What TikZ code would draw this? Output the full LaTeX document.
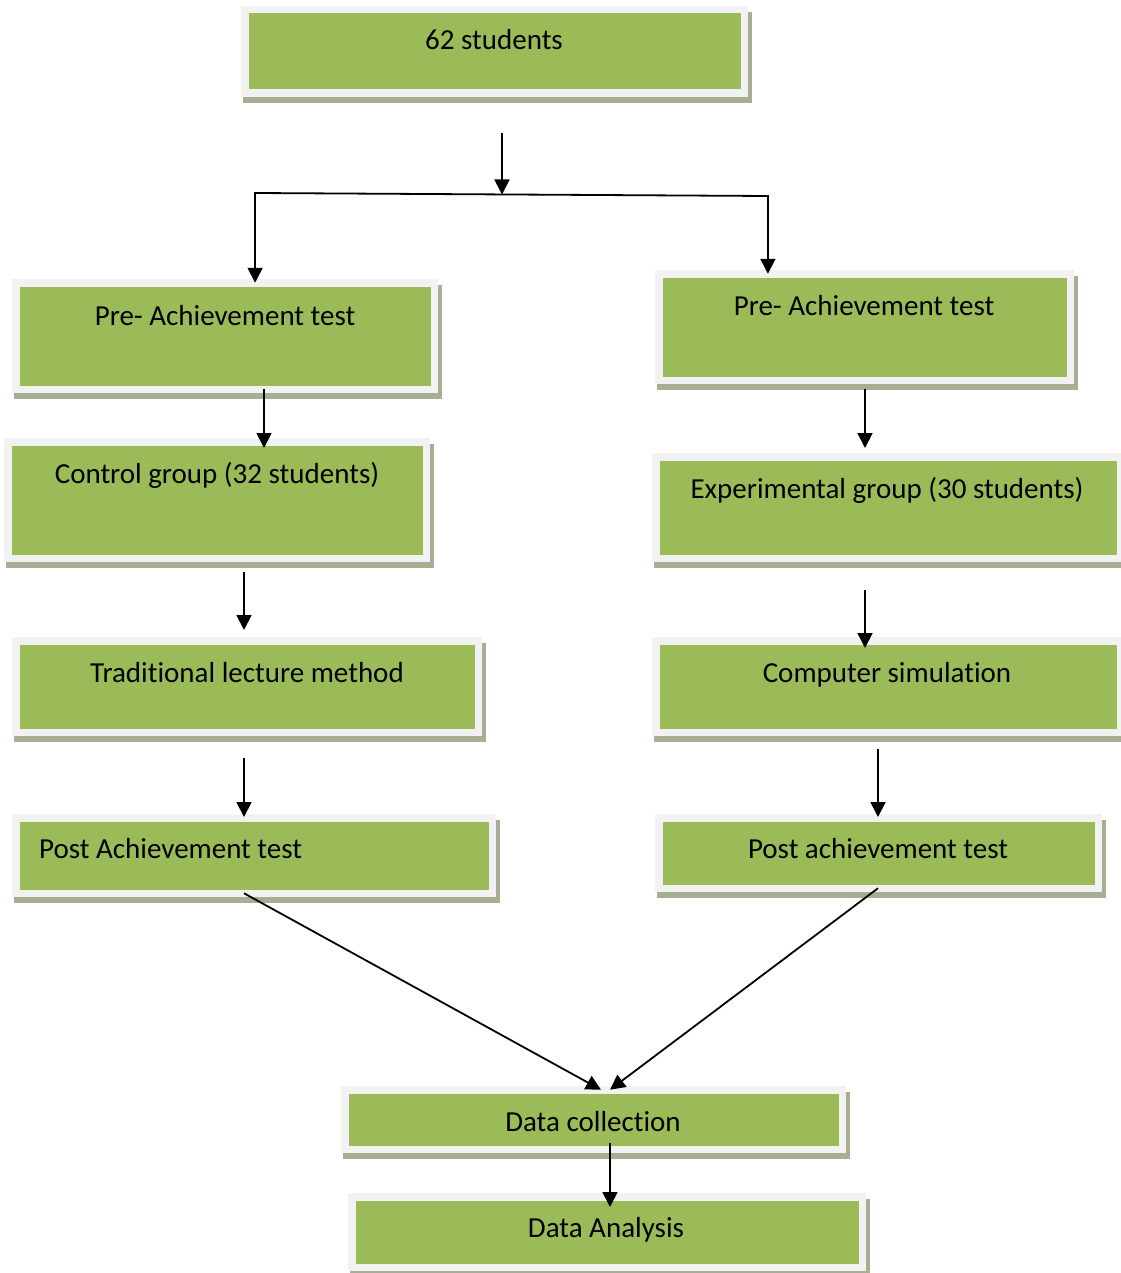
\documentclass[tikz,border=0pt]{standalone}
\usepackage{fontspec}
\setmainfont{Carlito}[RawFeature={-liga,-clig,-calt,-dlig}]
\usetikzlibrary{arrows.meta,calc}
\definecolor{boxgreen}{RGB}{155,187,89}
\definecolor{boxborder}{RGB}{242,242,242}
\definecolor{shadowcol}{RGB}{168,174,148}
\tikzset{
  flow/.style={rectangle, fill=boxgreen, draw=boxborder, line width=7.5pt, inner sep=0pt, outer sep=0pt},
  txt/.style={anchor=base, inner sep=0pt, font=\fontsize{29}{35}\selectfont, text=black},
  conn/.style={line width=1.8pt, draw=black},
  arr/.style={conn, -{Triangle[width=15pt,length=15pt]}}
}
\newcommand\flowbox[5]{%
  \fill[shadowcol] ({#2+2},{#3+6}) rectangle ({#4+4},{#5+6});
  \node[flow, minimum width={#4pt-#2pt-7.5pt}, minimum height={#5pt-#3pt-7.5pt}] (#1) at ({(#2+#4)/2},{(#3+#5)/2}) {};%
}
\begin{document}
\begin{tikzpicture}[x=1pt,y=-1pt]
\useasboundingbox[fill=white] (0,0) rectangle (1120,1273);
% boxes
\flowbox{b1}{241}{6}{748}{97}
\flowbox{b2}{12}{279}{438}{393}
\flowbox{b3}{655}{270}{1074}{384}
\flowbox{b4}{4}{438}{430}{562}
\flowbox{b5}{652}{453}{1124}{562}
\flowbox{b6}{12}{637}{482}{736}
\flowbox{b7}{652}{637}{1124}{736}
\flowbox{b8}{12}{814}{496}{897}
\flowbox{b9}{655}{814}{1102}{892}
\flowbox{b10}{341}{1086}{846}{1153}
\flowbox{b11}{348}{1193}{866}{1271}
% texts
\node[txt] (t1) at (494,50) {62 students};
\node[txt] (t2) at (225,325) {Pre- Achievement test};
\node[txt] (t3) at (864,315) {Pre- Achievement test};
\node[txt] (t4) at (217,483) {Control group (32 students)};
\node[txt] (t5) at (887,498) {Experimental group (30 students)};
\node[txt] (t6) at (247,682) {Traditional lecture method};
\node[txt] (t7) at (887,682) {Computer simulation};
\node[txt, anchor=base west] (t8) at (39,858) {Post Achievement test};
\node[txt] (t9) at (878,858) {Post achievement test};
\node[txt] (t10) at (593,1131) {Data collection};
\node[txt] (t11) at (606,1237) {Data Analysis};
% connectors
\coordinate (jl) at (256,193);
\coordinate (jr) at (767,196);
\coordinate (jm) at (502,194.5);
\draw[arr] ([xshift=7.5pt,yshift=-39.75pt]b1.south) -- (jm);
\draw[conn] ([xshift=-0.9pt]jl) -- ([xshift=0.9pt]jr);
\draw[arr] ([xshift=-0.9pt,yshift=0.9pt]jl) -- ([xshift=-0.9pt]jl |- b2.north);
\draw[arr] ([xshift=0.9pt,yshift=0.9pt]jr) -- ([xshift=0.9pt]jr |- b3.north);
\draw[arr] ([xshift=39pt]b2.south) -- ([xshift=47pt,yshift=-6.25pt]b4.north);
\draw[arr] ([xshift=0.5pt,yshift=-8.75pt]b3.south) -- ([xshift=-23pt,yshift=8.75pt]b5.north);
\draw[arr] ([xshift=27pt,yshift=-13.75pt]b4.south) -- ([xshift=-3pt,yshift=10.75pt]b6.north);
\draw[arr] ([xshift=-23pt,yshift=-31.75pt]b5.south) -- ([xshift=-23pt,yshift=-7.25pt]b7.north);
\draw[arr] ([xshift=-3pt,yshift=-25.75pt]b6.south) -- ([xshift=-10pt,yshift=0.75pt]b8.north);
\draw[arr] ([xshift=-10pt,yshift=-16.75pt]b7.south) -- ([xshift=-0.5pt,yshift=0.75pt]b9.north);
\draw[arr] ([xshift=-10pt]b8.south) -- ([xshift=7.5pt]b10.north);
\draw[arr] ([xshift=-0.5pt]b9.south) -- ([xshift=16.5pt]b10.north);
\draw[arr] ([xshift=16.5pt,yshift=6.25pt]b10.south) -- ([xshift=3pt,yshift=-10.25pt]b11.north);
\end{tikzpicture}
\end{document}
